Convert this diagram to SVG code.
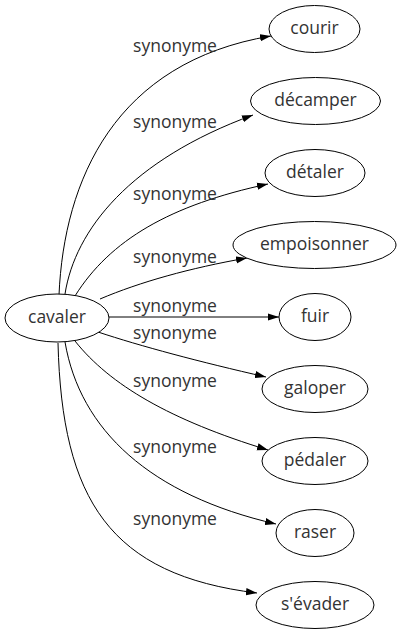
<svg xmlns="http://www.w3.org/2000/svg" width="402" height="635" viewBox="0 0 402 635">
<style>
.n ellipse{fill:#fff;stroke:#000;stroke-width:1}
text{font-family:"Open Sans","DejaVu Sans",sans-serif;font-size:17.5px;fill:#333;text-anchor:middle}
.e path{fill:none;stroke:#000;stroke-width:1;marker-end:url(#a)}
</style>
<defs>
<marker id="a" markerUnits="userSpaceOnUse" markerWidth="12" markerHeight="8" refX="11" refY="4" orient="auto"><path d="M0,0.4 L11,4 L0,7.6 z" fill="#000"/></marker>
</defs>
<rect width="402" height="635" fill="#fff"/>
<g id="edges" class="e">
<path d="M59,295 C64,180 115,62 271,36"/>
<path d="M65,294 C75,230 130,160 253,115"/>
<path d="M75,296 C110,240 170,205 268,184"/>
<path d="M100,299 C140,282 190,268 247,258"/>
<path d="M109,317 L279,317"/>
<path d="M98,332 C140,346 200,362 266,377"/>
<path d="M75,341 C110,385 170,420 268,450"/>
<path d="M65,342 C80,430 150,495 276,524"/>
<path d="M58,343 C62,500 110,575 257,593"/>
</g>
<g id="labels">
<text x="175" y="52">synonyme</text>
<text x="175" y="128">synonyme</text>
<text x="175" y="200">synonyme</text>
<text x="175" y="263">synonyme</text>
<text x="175" y="312">synonyme</text>
<text x="175" y="339">synonyme</text>
<text x="175" y="387">synonyme</text>
<text x="175" y="453">synonyme</text>
<text x="175" y="525">synonyme</text>
</g>
<g id="cavaler" class="n"><ellipse cx="57" cy="318" rx="52" ry="24"/><text x="57" y="323">cavaler</text></g>
<g id="courir" class="n"><ellipse cx="314.5" cy="29" rx="45.5" ry="23.5"/><text x="314.5" y="34">courir</text></g>
<g id="decamper" class="n"><ellipse cx="315.5" cy="101" rx="65" ry="23.5"/><text x="315.5" y="106">décamper</text></g>
<g id="detaler" class="n"><ellipse cx="315" cy="173" rx="50" ry="23.5"/><text x="315" y="178">détaler</text></g>
<g id="empoisonner" class="n"><ellipse cx="314.5" cy="245" rx="81.5" ry="23.5"/><text x="314.5" y="250">empoisonner</text></g>
<g id="fuir" class="n"><ellipse cx="315" cy="317" rx="36" ry="23.5"/><text x="315" y="322">fuir</text></g>
<g id="galoper" class="n"><ellipse cx="315" cy="389" rx="53" ry="23.5"/><text x="315" y="394">galoper</text></g>
<g id="pedaler" class="n"><ellipse cx="315" cy="461" rx="53" ry="23.5"/><text x="315" y="466">pédaler</text></g>
<g id="raser" class="n"><ellipse cx="315" cy="533" rx="39" ry="23.5"/><text x="315" y="538">raser</text></g>
<g id="sevader" class="n"><ellipse cx="315" cy="605" rx="59" ry="23.5"/><text x="315" y="610">s'évader</text></g>
</svg>
